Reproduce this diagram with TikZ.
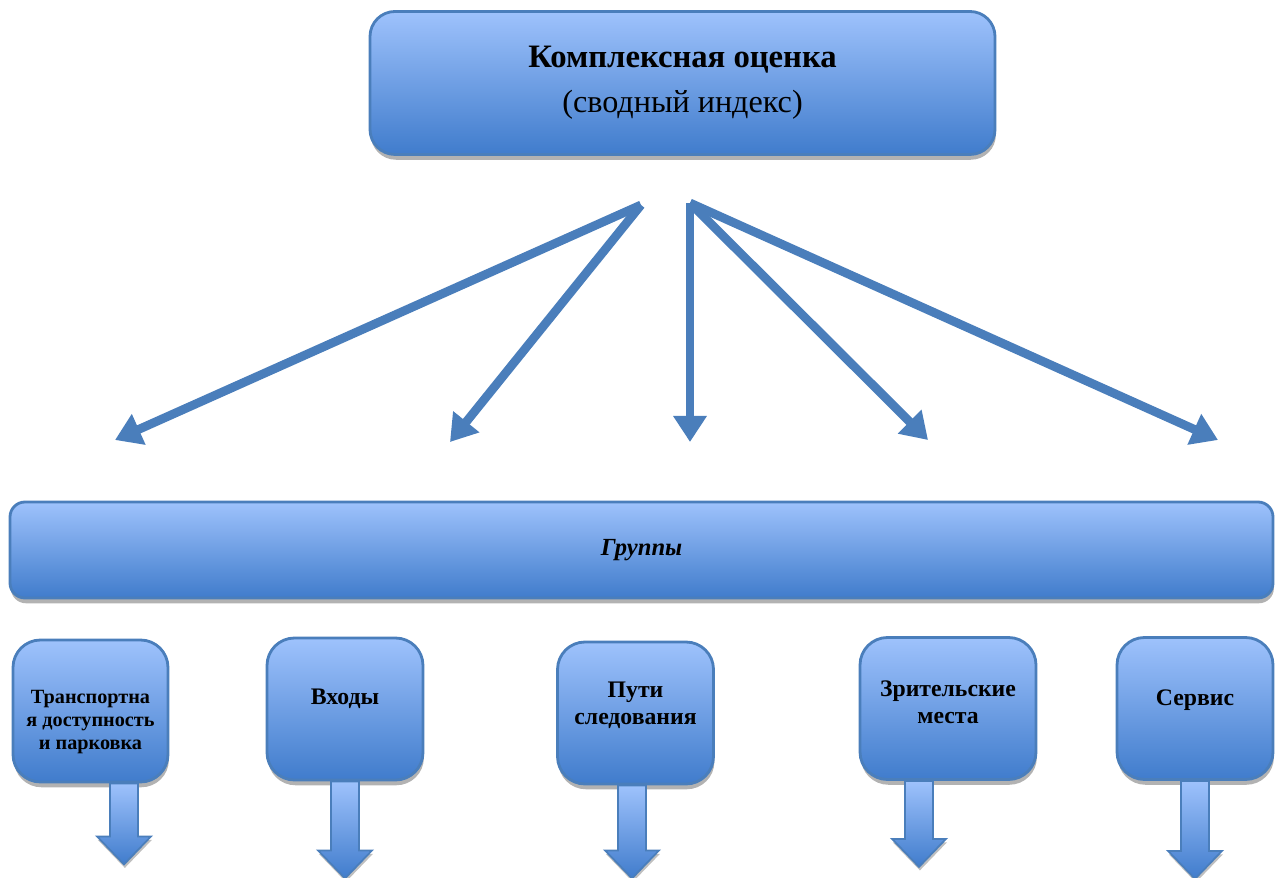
\documentclass[tikz,border=0pt]{standalone}
\usepackage{fontspec}
\setmainfont{Liberation Serif}
\usetikzlibrary{arrows.meta,shadows}

\definecolor{boxlight}{RGB}{158,194,252}
\definecolor{boxdark}{RGB}{64,124,204}
\definecolor{boxline}{RGB}{74,126,187}

\begin{document}
\begin{tikzpicture}
  [box/.style={rectangle,draw=boxline,line width=1.6pt,
     top color=boxlight,bottom color=boxdark,
     drop shadow={shadow xshift=0.5pt,shadow yshift=-3pt,opacity=.3,fill=black}},
   head/.style={box,rounded corners=0.5cm,minimum width=12.5cm,minimum height=2.86cm,
     align=center,font=\fontsize{18.3}{25.5}\selectfont},
   bar/.style={box,rounded corners=0.3cm,minimum width=25.26cm,minimum height=1.92cm,
     font=\fontsize{14}{17}\selectfont\bfseries\itshape},
   stage/.style={box,rounded corners=0.55cm,minimum width=3.12cm,minimum height=2.84cm},
   stagetext/.style={align=center,font=\fontsize{13.5}{15.5}\selectfont\bfseries},
   link/.style={draw=boxline,line width=5pt,-{Triangle[width=0.64cm,length=0.52cm]}},
   down/.style={draw=boxline,line width=1pt,top color=boxlight,bottom color=boxdark,
     drop shadow={shadow xshift=0.5pt,shadow yshift=-2pt,opacity=.25,fill=black}}]

  \useasboundingbox (0,0) rectangle (25.5,17.56);

  % top
  \node [head] (index) at (13.65,15.9)
    {{\fontsize{18.6}{25.5}\selectfont\bfseries Комплексная оценка}\\(сводный индекс)};

  % groups bar
  \node [bar] (groups) at (12.83,6.56) {Группы};

  % stages
  \node [stage,minimum width=3.1cm,
    label={[stagetext,font=\fontsize{11.5}{13.3}\selectfont\bfseries,yshift=-0.22cm]center:{Транспортна\\я доступность\\и парковка}}]
    (t1) at (1.81,3.34) {};
  \node [stage,label={[stagetext,yshift=0.2cm]center:Входы}] (t2) at (6.9,3.38) {};
  \node [stage,label={[stagetext,yshift=0.16cm]center:{Пути\\следования}}] (t3) at (12.71,3.3) {};
  \node [stage,minimum width=3.52cm,
    label={[stagetext,yshift=0.13cm]center:{Зрительские\\места}}] (t4) at (18.96,3.39) {};
  \node [stage,label={[stagetext,yshift=0.17cm]center:Сервис}] (t5) at (23.9,3.39) {};

  % arrows from the index
  \coordinate (srcL) at (12.82,13.46);
  \coordinate (srcR) at (13.8,13.5);
  \coordinate (g1) at (2.3,8.76);
  \coordinate (g2) at (9.0,8.72);
  \coordinate (g3) at (13.8,8.72);
  \coordinate (g4) at (18.56,8.76);
  \coordinate (g5) at (24.36,8.76);

  \foreach \from/\to in {srcL/g1,srcL/g2,srcR/g3,srcR/g4,srcR/g5}
    \draw [link] (\from) -- (\to);

  % block arrows under the stages
  \foreach \b/\dx/\s in {t1/0.67/1.06,t2/0/1.38,t3/-0.07/1.30,t4/-0.58/1.16,t5/0/1.40}
    \path [down] ([xshift=\dx cm]\b.south) ++(-0.28,0) -- ++(0,-\s) -- ++(-0.26,0)
      -- ++(0.54,-0.56) -- ++(0.54,0.56) -- ++(-0.26,0) -- ++(0,\s) -- cycle;
\end{tikzpicture}
\end{document}
